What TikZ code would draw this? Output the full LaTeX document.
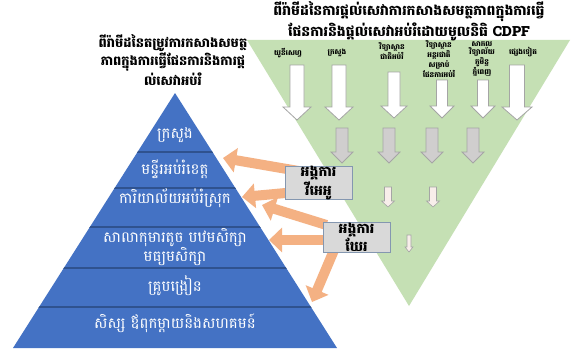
\documentclass[tikz,border=0pt]{standalone}
\usepackage{fontspec}
\newfontfamily\kh[Script=Khmer]{Battambang}
\usetikzlibrary{arrows.meta}
\definecolor{pyrblue}{HTML}{4472C4}
\definecolor{pyrline}{HTML}{2F528F}
\definecolor{greentri}{HTML}{C5E0B4}
\definecolor{arrgrey}{HTML}{A5A5A5}
\definecolor{greyfill}{HTML}{D0CECE}
\definecolor{pinkfill}{HTML}{F8EEEA}
\definecolor{boxfill}{HTML}{D9D9D9}
\definecolor{boxline}{HTML}{8497B0}
\definecolor{orangearr}{HTML}{F4B183}
% style, x, ytop, ytip, shaft half width, head half width, head length
\newcommand\dnarrow[7]{%
  \draw[#1] (#2-#5,#3) -- (#2+#5,#3) -- (#2+#5,#4-#7) -- (#2+#6,#4-#7)
    -- (#2,#4) -- (#2-#6,#4-#7) -- (#2-#5,#4-#7) -- cycle;}
\begin{document}
\begin{tikzpicture}[x=1pt,y=-1pt,
  titletext/.style={font=\kh\bfseries\fontsize{14}{12.5}\selectfont, align=center, inner sep=0},
  collabel/.style={font=\kh\bfseries\fontsize{7.3}{8}\selectfont, align=center, inner sep=0},
  pyrtext/.style={font=\kh\fontsize{15}{14}\selectfont, text=white, align=center, inner sep=0},
  orgbox/.style={draw=boxline, fill=boxfill, line width=0.8pt, minimum width=67pt, minimum height=30pt,
    font=\kh\bfseries\fontsize{14}{14}\selectfont, align=center, inner sep=0},
  whitearr/.style={draw=arrgrey, fill=white, line width=0.8pt},
  greyarr/.style={draw=arrgrey, fill=greyfill, line width=0.8pt},
  pinkarr/.style={draw=arrgrey, fill=pinkfill, line width=0.6pt},
  orangearrow/.style={draw=orangearr, line width=10pt, -{Triangle[length=13pt,width=24pt]}}]
\useasboundingbox (0,0) rectangle (572,361);
\fill[white] (0,0) rectangle (572,361);
% green inverted triangle
\fill[greentri] (247,40) -- (570,40) -- (409,306) -- cycle;
% pyramid
\fill[pyrblue] (175,93) -- (337,348) -- (13,348) -- cycle;
\begin{scope}
  \clip (175,93) -- (337,348) -- (13,348) -- cycle;
  \foreach \yy in {152,188,227,268,307}
    \draw[pyrline, line width=1.2pt] (0,\yy) -- (400,\yy);
\end{scope}
% titles
\node[titletext] (ttop) at (409,21) {ពីរ៉ាមីដនៃការផ្តល់សេវាការកសាងសមត្ថភាពក្នុងការធ្វើ\\ផែនការនិងផ្តល់សេវាអប់រំដោយមូលនិធិ CDPF};
\node[titletext, font=\kh\bfseries\fontsize{13}{13.5}\selectfont] (tleft) at (173,60) {ពីរ៉ាមីដនៃតម្រូវការកសាងសមត្ថ\\ភាពក្នុងការធ្វើផែនការនិងការផ្ត\\ល់សេវាអប់រំ};
% column labels
\node[collabel] (c1) at (288,53) {យូនីសេហ្វ};
\node[collabel] (c2) at (337,53) {ក្រសួង};
\node[collabel] (c3) at (392,51) {វិទ្យាស្ថាន\\ជាតិអប់រំ};
\node[collabel] (c4) at (439,59) {វិទ្យាស្ថាន\\អន្តរជាតិ\\សម្រាប់\\ផែនការអប់រំ};
\node[collabel] (c5) at (482,59) {សាកល\\វិទ្យាល័យ\\ភូមិន្ទ\\ភ្នំពេញ};
\node[collabel] (c6) at (523,52) {ផ្សេងទៀត};
% white arrows
\dnarrow{whitearr}{297}{65}{120}{7}{14}{13}
\dnarrow{whitearr}{339}{65}{120}{7}{14}{13}
\dnarrow{whitearr}{394}{72}{118}{6}{13}{12}
\dnarrow{whitearr}{442}{80}{118}{5.5}{12}{12}
\dnarrow{whitearr}{483}{80}{118}{5.5}{12}{12}
\dnarrow{whitearr}{517}{65}{120}{7.5}{15}{13}
% grey arrows
\dnarrow{greyarr}{342}{128}{163}{6}{11}{11}
\dnarrow{greyarr}{389}{128}{163}{6}{11}{11}
\dnarrow{greyarr}{432}{128}{163}{6}{11}{11}
\dnarrow{greyarr}{473}{128}{163}{6}{11}{11}
% small arrows
\dnarrow{pinkarr}{388}{187}{207}{3.5}{6.5}{6}
\dnarrow{pinkarr}{433}{187}{207}{3.5}{6.5}{6}
\dnarrow{pinkarr}{409}{235}{252}{2}{4}{5}
% pyramid labels
\node[pyrtext] (p1) at (175,135) {ក្រសួង};
\node[pyrtext] (p2) at (175,169) {មន្ទីរអប់រំខេត្ត};
\node[pyrtext] (p3) at (175,198) {ការិយាល័យអប់រំស្រុក};
\node[pyrtext] (p4) at (175,247) {សាលាកុមារតូច បឋមសិក្សា\\មធ្យមសិក្សា};
\node[pyrtext] (p5) at (175,286) {គ្រូបង្រៀន};
\node[pyrtext] (p6) at (175,323) {សិស្ស ឪពុកម្តាយនិងសហគមន៍};
% organisation boxes (positions)
\coordinate (b1c) at (318.5,183);
\coordinate (b2c) at (356.5,237);
% orange arrows
\coordinate (t1) at (223,158);
\coordinate (t2) at (242,197);
\coordinate (t3) at (262,205);
\coordinate (t4) at (269,240);
\coordinate (t5) at (312,302);
\draw[orangearrow] ([shift={(-20,-12)}]b1c) -- (t1);
\draw[orangearrow] ([shift={(-22,9)}]b1c) -- (t2);
\draw[orangearrow] ([shift={(-30,-12)}]b2c) -- (t3);
\draw[orangearrow] ([shift={(-25,3)}]b2c) -- (t4);
\draw[orangearrow] ([shift={(-22,12)}]b2c) -- (t5);
\node[orgbox] (o1) at (b1c) {អង្គការ\\វីអេអូ};
\node[orgbox] (o2) at (b2c) {អង្គការ\\ឃែរ};
\end{tikzpicture}
\end{document}
